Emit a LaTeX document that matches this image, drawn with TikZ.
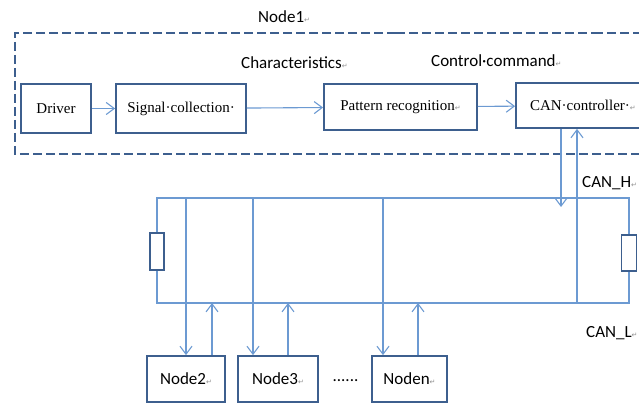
\documentclass[tikz,border=0pt]{standalone}
\usepackage{fontspec}
\setmainfont{Liberation Serif}
\newfontfamily\calfont{Carlito}
\newfontfamily\symfont{DejaVu Sans}
\usetikzlibrary{arrows.meta}
\definecolor{boxblue}{HTML}{3D5F8E}
\definecolor{wireblue}{HTML}{6C9AD2}
\definecolor{markgray}{HTML}{909090}
\newcommand{\pmk}{{\symfont\fontsize{7}{7}\selectfont\color{markgray}↵}}
\tikzset{
  blk/.style={draw=boxblue,line width=1.8pt,fill=white,inner sep=0pt,font=\fontsize{15}{16}\selectfont},
  nbox/.style={blk,minimum width=#1,minimum height=46pt,font=\calfont\fontsize{17}{18}\selectfont},
  wire/.style={draw=wireblue,line width=1.1pt},
  sig/.style={wire,-{Straight Barb[length=8pt,width=12pt]}},
  lbl/.style={font=\calfont\fontsize{17}{18}\selectfont,inner sep=0pt,anchor=west},
  res/.style={draw=boxblue,line width=1.8pt,fill=white,minimum width=14pt,minimum height=37pt,inner sep=0pt},
  frame/.style={draw=boxblue,line width=2.6pt,dash pattern=on 9pt off 4pt}
}
\begin{document}
\begin{tikzpicture}[x=1pt,y=-1pt]
\useasboundingbox (0,0) rectangle (639,403);
% dashed frame of node 1
\draw[frame] (396,33) -- (15,33) -- (15,154) -- (700,154);
\draw[frame,line width=1.3pt] (396,33) -- (594,33);
\draw[frame] (594,33) -- (700,33);
\node[lbl] (n1lbl) at (258,17) {Node1\pmk};
\node[lbl] (chr) at (241,63) {Characteristics\pmk};
\node[lbl] (cmd) at (431,61) {Control·command\pmk};
% blocks inside node 1
\node[blk,minimum width=70pt,minimum height=49pt] (drv) at (56,108.5) {Driver};
\node[blk,minimum width=130pt,minimum height=49pt] (sig) at (181,108.5) {Signal·collection·};
\node[blk,minimum width=153pt,minimum height=46pt] (pat) at (400.5,107) {Pattern recognition\pmk};
\node[blk,minimum width=174pt,minimum height=45pt,inner xsep=14pt,text width=146pt,align=left] (can) at (603,105.5) {CAN·controller·\pmk};
\draw[sig] (drv) -- (sig);
\draw[sig] (sig) -- (pat);
\draw[sig] (pat) -- (can);
% bus
\path (157,198) coordinate (hl) (629,198) coordinate (hr)
      (157,303) coordinate (ll) (629,303) coordinate (lr);
\node[res] (rl) at (157,251.5) {};
\node[res,minimum width=15pt,minimum height=36pt] (rr) at (629,253) {};
\draw[wire] (rl.north) -- (hl) -- (hr) -- (rr.north);
\draw[wire] (rl.south) -- (ll) -- (lr) -- (rr.south);
\node[lbl] (canh) at (582,183) {CAN\_H\pmk};
\node[lbl] (canl) at (586,333) {CAN\_L\pmk};
\path (561,207) coordinate (cdn) (577,303) coordinate (cup);
\draw[sig] (cdn |- can.south) -- (cdn);
\draw[sig] (cup) -- (cup |- can.south);
% other nodes
\node[nbox=78pt] (n2) at (186,379) {Node2\pmk};
\node[nbox=80pt] (n3) at (278,379) {Node3\pmk};
\node[nbox=75pt] (nn) at (409.5,379) {Noden\pmk};
\node[lbl,anchor=center] (dots) at (345.5,381) {......};
\foreach \nm/\dx/\ux in {n2/186/212,n3/253/288,nn/383/418}{
  \path (\dx,198) coordinate (d\nm) (\ux,303) coordinate (u\nm);
  \draw[sig] (d\nm) -- (d\nm |- \nm.north);
  \draw[sig] (u\nm |- \nm.north) -- (u\nm);
}
\end{tikzpicture}
\end{document}
